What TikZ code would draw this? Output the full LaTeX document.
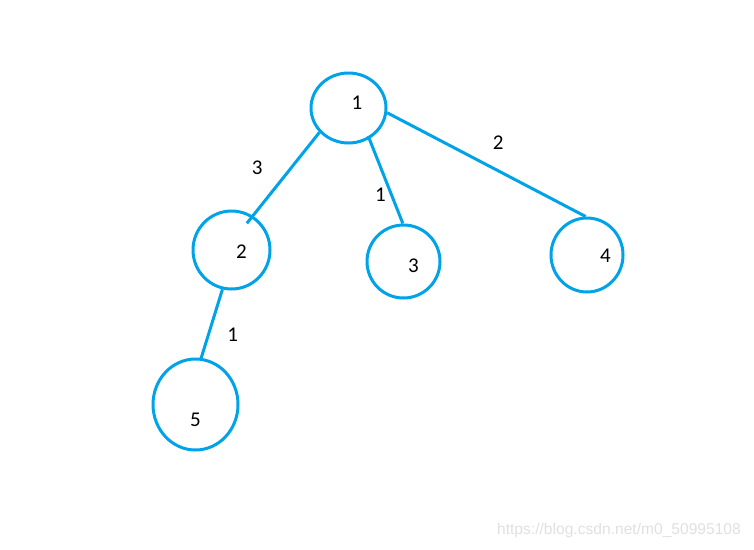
\documentclass[tikz,border=0pt]{standalone}
\usepackage{fontspec}
\setmainfont{Carlito}
\newfontfamily\wmfont{Liberation Sans}
\usetikzlibrary{shapes.geometric}
\definecolor{paintblue}{RGB}{0,162,232}

\begin{document}
\begin{tikzpicture}[x=1pt,y=-1pt,
  vert/.style={draw=paintblue,line width=3pt,ellipse,inner sep=0pt},
  link/.style={draw=paintblue,line width=3pt},
  wt/.style={font=\fontsize{21}{25}\selectfont,inner sep=0pt}]
\useasboundingbox (0,0) rectangle (754,549);
% vertices
\node[vert,minimum width=75pt,minimum height=70pt] (v1) at (348.5,108) {};
\node[vert,minimum width=77pt,minimum height=78pt] (v2) at (231.5,250) {};
\node[vert,minimum width=73pt,minimum height=73pt] (v3) at (403.5,261.5) {};
\node[vert,minimum width=72pt,minimum height=74pt] (v4) at (587,255) {};
\node[vert,minimum width=85pt,minimum height=91pt] (v5) at (195.5,404.5) {};
\node[wt] (t1) at (357,103) {1};
\node[wt] (t2) at (241.5,251.5) {2};
\node[wt] (t3) at (413.5,265.5) {3};
\node[wt] (t4) at (605.5,255.5) {4};
\node[wt] (t5) at (195.5,420) {5};
% edges
\draw[link,shorten >=-9.7pt] (v1.220) -- (v2.58);
\draw[link,shorten <=-3pt] (v1.304) -- (v3.91);
\draw[link] (v1.353) -- (v4.92);
\draw[link,shorten >=-2pt] (v2.257) -- (v5.83);
% weights
\node[wt] (w12) at (257.3,167.3) {3};
\node[wt] (w13) at (380.5,195) {1};
\node[wt] (w14) at (498.3,142.3) {2};
\node[wt] (w25) at (232.7,335) {1};
\node[font=\wmfont\fontsize{15.6}{18}\selectfont,text=black!12,inner sep=0pt]
  (mark) at (619,530.5) {https://blog.csdn.net/m0\_50995108};
\end{tikzpicture}
\end{document}
